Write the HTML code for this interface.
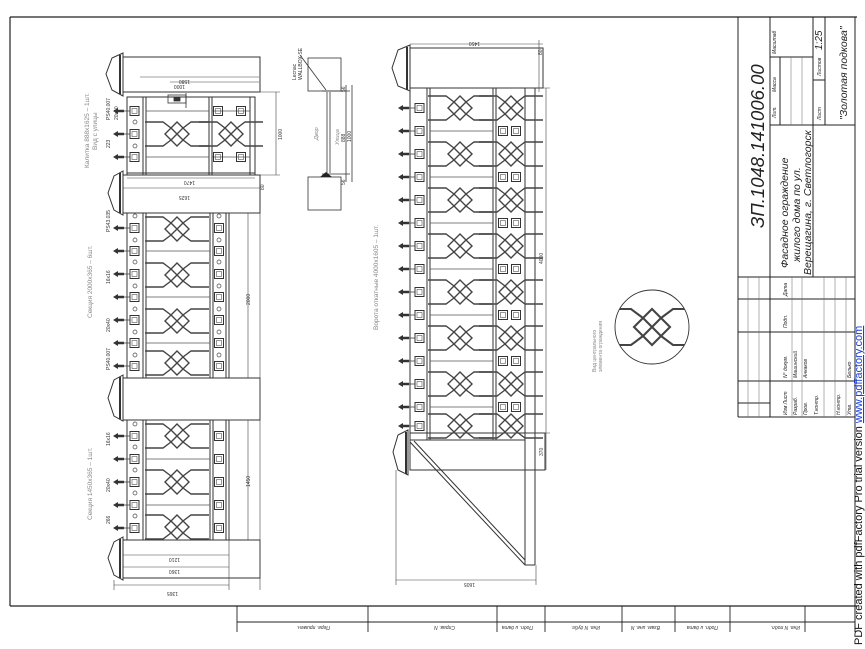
<!DOCTYPE html>
<html><head><meta charset="utf-8"><style>
html,body{margin:0;padding:0;background:#fff;}
svg{display:block;}
text{font-family:"Liberation Sans","DejaVu Sans",sans-serif;}
</style></head><body>
<svg width="865" height="649" viewBox="0 0 865 649" xmlns="http://www.w3.org/2000/svg">
<defs>
<g id="sp">
  <path d="M113 0 L118 -3 L118 -1.2 L124 -1.2 L124 1.2 L118 1.2 L118 3 Z" fill="#333"/>
  <line x1="124" y1="0" x2="130" y2="0" stroke="#444" stroke-width="0.8"/>
  <rect x="130" y="-4.5" width="9" height="9" fill="none" stroke="#333" stroke-width="1"/>
  <rect x="132" y="-2.5" width="5" height="5" fill="none" stroke="#555" stroke-width="0.6"/>
</g>
<g id="sq">
  <rect x="-4.5" y="-4.5" width="9" height="9" fill="none" stroke="#333" stroke-width="1"/>
  <rect x="-2.5" y="-2.5" width="5" height="5" fill="none" stroke="#555" stroke-width="0.6"/>
</g>
<g id="lat" fill="none" stroke="#444" stroke-width="1.4">
  <path d="M-12 0 L-6 -6 L0 0 L-6 6 Z M0 0 L6 -6 L12 0 L6 6 Z M-6 -6 L0 -12 L6 -6 M-6 6 L0 12 L6 6"/>
  <path d="M-32 -12 L-14 -12 L-6 -6 M-32 12 L-14 12 L-6 6 M32 -12 L14 -12 L6 -6 M32 12 L14 12 L6 6"/>
</g>
<circle id="ci" r="2" fill="#fff" stroke="#444" stroke-width="0.7"/>
<clipPath id="cc"><circle cx="652" cy="327" r="37"/></clipPath>
</defs>

<!-- frame -->
<g fill="none" stroke="#222">
<line x1="10" y1="17" x2="857" y2="17" stroke-width="1.2"/>
<line x1="10" y1="17" x2="10" y2="606" stroke-width="1.2"/>
<line x1="10" y1="606" x2="857" y2="606" stroke-width="1.2"/>
<line x1="855" y1="17" x2="855" y2="632" stroke-width="1"/>
<g stroke-width="0.9">
<line x1="237" y1="622" x2="855" y2="622"/>
<line x1="237" y1="606" x2="237" y2="632"/><line x1="368" y1="606" x2="368" y2="632"/>
<line x1="497" y1="606" x2="497" y2="632"/><line x1="545" y1="606" x2="545" y2="632"/>
<line x1="622" y1="606" x2="622" y2="632"/><line x1="675" y1="606" x2="675" y2="632"/>
<line x1="730" y1="606" x2="730" y2="632"/><line x1="805" y1="606" x2="805" y2="632"/>
</g>
<g stroke-width="1">
<line x1="738" y1="17" x2="738" y2="417"/>
<line x1="738" y1="417" x2="855" y2="417"/>
<line x1="738" y1="277" x2="855" y2="277"/>
<line x1="770" y1="17" x2="770" y2="417"/>
<line x1="813" y1="17" x2="813" y2="277"/>
<line x1="825" y1="17" x2="825" y2="125"/>
<line x1="770" y1="125" x2="855" y2="125"/>
<line x1="770" y1="57" x2="813" y2="57"/>
<line x1="780" y1="57" x2="780" y2="125"/>
<line x1="813" y1="80" x2="825" y2="80"/>
<line x1="738" y1="299" x2="855" y2="299"/>
<line x1="738" y1="332" x2="855" y2="332"/>
<line x1="738" y1="381" x2="855" y2="381"/>
<line x1="738" y1="403" x2="770" y2="403"/>
</g>
<g stroke-width="0.5" stroke="#666">
<line x1="748" y1="277" x2="748" y2="417"/><line x1="759" y1="277" x2="759" y2="417"/>
<line x1="792" y1="277" x2="792" y2="417"/><line x1="802" y1="277" x2="802" y2="417"/>
<line x1="824" y1="277" x2="824" y2="417"/><line x1="835" y1="277" x2="835" y2="417"/><line x1="846" y1="277" x2="846" y2="417"/>
<line x1="791" y1="57" x2="791" y2="125"/><line x1="802" y1="57" x2="802" y2="125"/>
</g>
</g>

<g fill="#222">
<text transform="translate(764,228) rotate(-90)" font-size="18.5" font-style="italic">ЗП.1048.141006.00</text>
<text transform="translate(788,268) rotate(-90)" font-size="10.5" font-style="italic">Фасадное ограждение</text>
<text transform="translate(800,262) rotate(-90)" font-size="10.5" font-style="italic">жилого дома по ул.</text>
<text transform="translate(811,275) rotate(-90)" font-size="10.5" font-style="italic">Верещагина, г. Светлогорск</text>
<text transform="translate(847,120) rotate(-90)" font-size="10.5" font-style="italic">"Золотая подкова"</text>
<text transform="translate(822,50) rotate(-90)" font-size="10" font-style="italic">1:25</text>
<text transform="translate(776,118) rotate(-90)" font-size="5" font-style="italic">Лит.</text>
<text transform="translate(776,92) rotate(-90)" font-size="5" font-style="italic">Масса</text>
<text transform="translate(776,54) rotate(-90)" font-size="5" font-style="italic">Масштаб</text>
<text transform="translate(821,120) rotate(-90)" font-size="5" font-style="italic">Лист</text>
<text transform="translate(821,76) rotate(-90)" font-size="5" font-style="italic">Листов</text>
<text transform="translate(787,296) rotate(-90)" font-size="5" font-style="italic">Дата</text>
<text transform="translate(787,328) rotate(-90)" font-size="5" font-style="italic">Подп.</text>
<text transform="translate(787,378) rotate(-90)" font-size="5" font-style="italic">N° докум.</text>
<text transform="translate(797,378) rotate(-90)" font-size="5" font-style="italic">Машинский</text>
<text transform="translate(807,378) rotate(-90)" font-size="5" font-style="italic">Анкаков</text>
<text transform="translate(787,415) rotate(-90)" font-size="5" font-style="italic">Изм Лист</text>
<text transform="translate(797,415) rotate(-90)" font-size="5" font-style="italic">Разраб.</text>
<text transform="translate(807,415) rotate(-90)" font-size="5" font-style="italic">Пров.</text>
<text transform="translate(818,415) rotate(-90)" font-size="5" font-style="italic">Т.контр.</text>
<text transform="translate(840,415) rotate(-90)" font-size="5" font-style="italic">Н.контр.</text>
<text transform="translate(851,415) rotate(-90)" font-size="5" font-style="italic">Утв.</text>
<text transform="translate(851,378) rotate(-90)" font-size="5" font-style="italic">Белько</text>
</g>
<text transform="translate(862,645) rotate(-90)" font-size="11" fill="#111">PDF created with pdfFactory Pro trial version <tspan fill="#1a3fd8" text-decoration="underline">www.pdffactory.com</tspan></text>
<g fill="#333" font-size="5" font-style="italic">
<text transform="translate(330,626) rotate(180)">Перв. примен.</text>
<text transform="translate(455,626) rotate(180)">Справ. N</text>
<text transform="translate(533,626) rotate(180)">Подп. и дата</text>
<text transform="translate(600,626) rotate(180)">Инв. N дубл.</text>
<text transform="translate(660,626) rotate(180)">Взам. инв. N</text>
<text transform="translate(718,626) rotate(180)">Подп. и дата</text>
<text transform="translate(800,626) rotate(180)">Инв. N подл.</text>
</g>

<!-- ===== LEFT FENCE ===== -->
<g fill="none" stroke="#333" stroke-width="1">
<rect x="123" y="57" width="137" height="35"/>
<rect x="123" y="175" width="137" height="38"/>
<rect x="123" y="378" width="137" height="42"/>
<rect x="123" y="540" width="137" height="38"/>
<path d="M123 53 L112 58 L106 74 L112 90 L123 96 Z" fill="#fff"/>
<path d="M123 171 L114 176 L108 193 L114 210 L123 215 Z" fill="#fff"/>
<path d="M123 375 L114 380 L108 398 L114 416 L123 421 Z" fill="#fff"/>
<path d="M123 537 L114 542 L108 558 L114 575 L123 580 Z" fill="#fff"/>
<line x1="120" y1="55" x2="120" y2="94" stroke-width="2"/>
<line x1="120" y1="173" x2="120" y2="213" stroke-width="2"/>
<line x1="120" y1="377" x2="120" y2="419" stroke-width="2"/>
<line x1="120" y1="539" x2="120" y2="578" stroke-width="2"/>
<rect x="127" y="97" width="128" height="78"/>
<line x1="143" y1="97" x2="143" y2="175"/><line x1="146" y1="97" x2="146" y2="175"/>
<line x1="209" y1="97" x2="209" y2="175"/><line x1="212" y1="97" x2="212" y2="175"/>
<line x1="250" y1="97" x2="250" y2="175"/>
<line x1="127" y1="173" x2="255" y2="173"/>
<rect x="127" y="213" width="102" height="165"/>
<line x1="143" y1="213" x2="143" y2="378"/><line x1="146" y1="213" x2="146" y2="378"/>
<line x1="210" y1="213" x2="210" y2="378"/><line x1="213" y1="213" x2="213" y2="378"/>
<line x1="226" y1="213" x2="226" y2="378"/>
<rect x="127" y="420" width="102" height="120"/>
<line x1="143" y1="420" x2="143" y2="540"/><line x1="146" y1="420" x2="146" y2="540"/>
<line x1="210" y1="420" x2="210" y2="540"/><line x1="213" y1="420" x2="213" y2="540"/>
<line x1="226" y1="420" x2="226" y2="540"/>
</g>
<g stroke="#555" stroke-width="0.8">
<line x1="146" y1="111" x2="209" y2="111"/><line x1="146" y1="157" x2="209" y2="157"/>
<line x1="212" y1="111" x2="250" y2="111"/><line x1="212" y1="157" x2="250" y2="157"/>
</g>
<use href="#sp" y="111"/><use href="#sp" y="134"/><use href="#sp" y="157"/>
<use href="#sq" x="218" y="111"/><use href="#sq" x="241" y="111"/>
<use href="#sq" x="218" y="157"/><use href="#sq" x="241" y="157"/>
<use href="#lat" x="177" y="134"/><use href="#lat" x="231" y="134"/>
<use href="#ci" x="135" y="122"/><use href="#ci" x="135" y="146"/>

<g stroke="#555" stroke-width="0.8">
<line x1="146" y1="251" x2="210" y2="251"/><line x1="146" y1="297" x2="210" y2="297"/><line x1="146" y1="343" x2="210" y2="343"/>
<line x1="146" y1="459" x2="210" y2="459"/><line x1="146" y1="505" x2="210" y2="505"/>
</g>
<use href="#sp" y="228"/><use href="#sp" y="251"/><use href="#sp" y="274"/><use href="#sp" y="297"/><use href="#sp" y="320"/><use href="#sp" y="343"/><use href="#sp" y="366"/>
<use href="#sq" x="219" y="228"/><use href="#sq" x="219" y="251"/><use href="#sq" x="219" y="274"/><use href="#sq" x="219" y="297"/><use href="#sq" x="219" y="320"/><use href="#sq" x="219" y="343"/><use href="#sq" x="219" y="366"/>
<use href="#lat" x="177" y="229"/><use href="#lat" x="177" y="275"/><use href="#lat" x="177" y="321"/><use href="#lat" x="177" y="363"/>
<use href="#ci" x="135" y="216"/><use href="#ci" x="135" y="240"/><use href="#ci" x="135" y="262"/><use href="#ci" x="135" y="286"/><use href="#ci" x="135" y="309"/><use href="#ci" x="135" y="332"/><use href="#ci" x="135" y="355"/>
<use href="#ci" x="219" y="216"/><use href="#ci" x="219" y="240"/><use href="#ci" x="219" y="262"/><use href="#ci" x="219" y="286"/><use href="#ci" x="219" y="309"/><use href="#ci" x="219" y="332"/><use href="#ci" x="219" y="355"/>
<use href="#sp" y="436"/><use href="#sp" y="459"/><use href="#sp" y="482"/><use href="#sp" y="505"/><use href="#sp" y="528"/>
<use href="#sq" x="219" y="436"/><use href="#sq" x="219" y="459"/><use href="#sq" x="219" y="482"/><use href="#sq" x="219" y="505"/><use href="#sq" x="219" y="528"/>
<use href="#lat" x="177" y="436"/><use href="#lat" x="177" y="482"/><use href="#lat" x="177" y="527"/>
<use href="#ci" x="135" y="424"/><use href="#ci" x="135" y="447"/><use href="#ci" x="135" y="470"/><use href="#ci" x="135" y="493"/><use href="#ci" x="135" y="516"/>

<g stroke="#444" stroke-width="0.6" fill="none">
<line x1="258" y1="92" x2="280" y2="92"/><line x1="258" y1="175" x2="280" y2="175"/><line x1="276" y1="92" x2="276" y2="175"/>
<line x1="140" y1="77" x2="259" y2="77"/><line x1="170" y1="82" x2="259" y2="82"/>
<line x1="127" y1="178" x2="255" y2="178"/><line x1="123" y1="188" x2="260" y2="188"/>
<line x1="260" y1="210" x2="260" y2="590"/>
<line x1="229" y1="213" x2="250" y2="213"/><line x1="248" y1="213" x2="248" y2="378"/>
<line x1="229" y1="420" x2="250" y2="420"/><line x1="248" y1="420" x2="248" y2="540"/>
<line x1="123" y1="555" x2="229" y2="555"/><line x1="123" y1="567" x2="229" y2="567"/><line x1="114" y1="585" x2="229" y2="585"/>
<line x1="114" y1="580" x2="114" y2="590"/><line x1="229" y1="540" x2="229" y2="590"/>
</g>
<g fill="#333" font-size="5" font-family="Liberation Serif">
<text transform="translate(282,140) rotate(-90)">1000</text>
<text transform="translate(190,80) rotate(180)">1580</text>
<text transform="translate(185,85) rotate(180)">1000</text>
<text transform="translate(195,181) rotate(180)">1470</text>
<text transform="translate(190,196) rotate(180)">1625</text>
<text transform="translate(250,305) rotate(-90)">2000</text>
<text transform="translate(250,487) rotate(-90)">1450</text>
<text transform="translate(180,558) rotate(180)">1210</text>
<text transform="translate(180,570) rotate(180)">1360</text>
<text transform="translate(178,592) rotate(180)">1365</text>
<text transform="translate(264,190) rotate(-90)">80</text>
<text transform="translate(110,120) rotate(-90)">PS40.007</text>
<text transform="translate(118,120) rotate(-90)">20x40</text>
<text transform="translate(110,148) rotate(-90)">223</text>
<text transform="translate(110,232) rotate(-90)">PS43.035</text>
<text transform="translate(110,284) rotate(-90)">16x16</text>
<text transform="translate(110,332) rotate(-90)">20x40</text>
<text transform="translate(110,370) rotate(-90)">PS40.007</text>
<text transform="translate(110,446) rotate(-90)">16x16</text>
<text transform="translate(110,492) rotate(-90)">20x40</text>
<text transform="translate(110,524) rotate(-90)">266</text>
</g>
<g fill="#888" font-size="6.5">
<text transform="translate(89,168) rotate(-90)">Калитка 888x1625 – 1шт.</text>
<text transform="translate(97,150) rotate(-90)">Вид с улицы</text>
<text transform="translate(92,318) rotate(-90)">Секция 2000x365 – 6шт.</text>
<text transform="translate(92,520) rotate(-90)">Секция 1450x365 – 1шт.</text>
<text transform="translate(378,330) rotate(-90)">Ворота откатные 4000x1605 – 1шт.</text>
<text transform="translate(596,372) rotate(-90)" font-size="5">Вид центрального</text>
<text transform="translate(602,372) rotate(-90)" font-size="5">элемента ограждения</text>
</g>
<g fill="none" stroke="#333" stroke-width="0.8">
<rect x="168" y="95" width="18" height="8"/><rect x="174" y="97" width="6" height="4" fill="#333"/>
<line x1="186" y1="93" x2="186" y2="108"/>
</g>

<!-- plan view -->
<g fill="none" stroke="#333" stroke-width="0.8">
<rect x="308" y="58" width="33" height="33"/>
<rect x="308" y="177" width="33" height="33"/>
<line x1="327" y1="92" x2="327" y2="173"/><line x1="330" y1="92" x2="330" y2="173"/>
<line x1="322" y1="91" x2="350" y2="91"/><line x1="322" y1="174" x2="350" y2="174"/>
<line x1="346" y1="85" x2="346" y2="182"/><line x1="352" y1="85" x2="352" y2="182"/>
<line x1="300" y1="55" x2="326" y2="90"/>
</g>
<path d="M320 177 L326 172 L332 177 Z" fill="#222"/>
<g fill="#333" font-size="5" font-family="Liberation Serif">
<text transform="translate(296,80) rotate(-90)">Lecnac</text>
<text transform="translate(302,80) rotate(-90)">WALLBOX.SE</text>
<text transform="translate(345,142) rotate(-90)">888</text>
<text transform="translate(351,142) rotate(-90)">1000</text>
<text transform="translate(345,92) rotate(-90)">56</text>
<text transform="translate(345,185) rotate(-90)">56</text>
</g>
<g fill="#888" font-size="5.5" font-style="italic">
<text transform="translate(318,140) rotate(-90)">Двор</text>
<text transform="translate(339,145) rotate(-90)">Улица</text>
</g>

<!-- GATE -->
<g fill="none" stroke="#333" stroke-width="1">
<rect x="410" y="48" width="133" height="40"/>
<path d="M410 45 L398 50 L392 68 L398 86 L410 91 Z" fill="#fff"/>
<line x1="407" y1="47" x2="407" y2="90" stroke-width="2"/>
<rect x="410" y="88" width="115" height="352"/>
<line x1="427" y1="88" x2="427" y2="440"/><line x1="430" y1="88" x2="430" y2="440"/>
<line x1="493" y1="88" x2="493" y2="440"/><line x1="496" y1="88" x2="496" y2="440"/>
<line x1="525" y1="88" x2="525" y2="565"/><line x1="535" y1="88" x2="535" y2="565"/>
<line x1="525" y1="565" x2="535" y2="565"/>
<rect x="410" y="433" width="135" height="37"/>
<path d="M408 430 L398 435 L393 452 L398 470 L408 475 Z" fill="#fff"/>
<line x1="406" y1="432" x2="406" y2="474" stroke-width="2"/>
<line x1="410" y1="442" x2="525" y2="565"/><line x1="414" y1="441" x2="525" y2="560"/>
</g>
<g stroke="#444" stroke-width="0.6">
<line x1="396" y1="470" x2="396" y2="585"/><line x1="396" y1="580" x2="536" y2="580"/><line x1="536" y1="565" x2="536" y2="585"/>
<line x1="410" y1="44" x2="543" y2="44"/><line x1="539" y1="40" x2="539" y2="92"/>
<line x1="525" y1="88" x2="550" y2="88"/><line x1="546" y1="88" x2="546" y2="470"/>
<line x1="525" y1="433" x2="550" y2="433"/>
</g>
<g fill="#333" font-size="5" font-family="Liberation Serif">
<text transform="translate(480,42) rotate(180)">1450</text>
<text transform="translate(475,583) rotate(180)">1605</text>
<text transform="translate(543,264) rotate(-90)">4000</text>
<text transform="translate(543,456) rotate(-90)">370</text>
<text transform="translate(542,55) rotate(-90)">80</text>
</g>
<use href="#sp" x="285" y="108"/><use href="#sp" x="285" y="131"/><use href="#sp" x="285" y="154"/><use href="#sp" x="285" y="177"/><use href="#sp" x="285" y="200"/>
<use href="#sp" x="285" y="223"/><use href="#sp" x="285" y="246"/><use href="#sp" x="285" y="269"/><use href="#sp" x="285" y="292"/><use href="#sp" x="285" y="315"/>
<use href="#sp" x="285" y="338"/><use href="#sp" x="285" y="361"/><use href="#sp" x="285" y="384"/><use href="#sp" x="285" y="407"/><use href="#sp" x="285" y="426"/>
<g stroke="#555" stroke-width="0.8">
<line x1="430" y1="131" x2="493" y2="131"/><line x1="430" y1="177" x2="493" y2="177"/><line x1="430" y1="223" x2="493" y2="223"/>
<line x1="430" y1="269" x2="493" y2="269"/><line x1="430" y1="315" x2="493" y2="315"/><line x1="430" y1="361" x2="493" y2="361"/><line x1="430" y1="407" x2="493" y2="407"/>
</g>
<use href="#lat" x="460" y="108"/><use href="#lat" x="460" y="154"/><use href="#lat" x="460" y="200"/><use href="#lat" x="460" y="246"/>
<use href="#lat" x="460" y="292"/><use href="#lat" x="460" y="338"/><use href="#lat" x="460" y="384"/><use href="#lat" x="460" y="426"/>
<use href="#lat" x="511" y="108"/><use href="#lat" x="511" y="154"/><use href="#lat" x="511" y="200"/><use href="#lat" x="511" y="246"/>
<use href="#lat" x="511" y="292"/><use href="#lat" x="511" y="338"/><use href="#lat" x="511" y="384"/><use href="#lat" x="511" y="426"/>
<use href="#sq" x="503" y="131"/><use href="#sq" x="516" y="131"/><use href="#sq" x="503" y="177"/><use href="#sq" x="516" y="177"/>
<use href="#sq" x="503" y="223"/><use href="#sq" x="516" y="223"/><use href="#sq" x="503" y="269"/><use href="#sq" x="516" y="269"/>
<use href="#sq" x="503" y="315"/><use href="#sq" x="516" y="315"/><use href="#sq" x="503" y="361"/><use href="#sq" x="516" y="361"/>
<use href="#sq" x="503" y="407"/><use href="#sq" x="516" y="407"/>

<!-- circle detail -->
<circle cx="652" cy="327" r="37" fill="none" stroke="#333" stroke-width="0.9"/>
<g clip-path="url(#cc)"><g transform="translate(652,327) scale(1.5)"><use href="#lat"/></g></g>
</svg>
</body></html>
